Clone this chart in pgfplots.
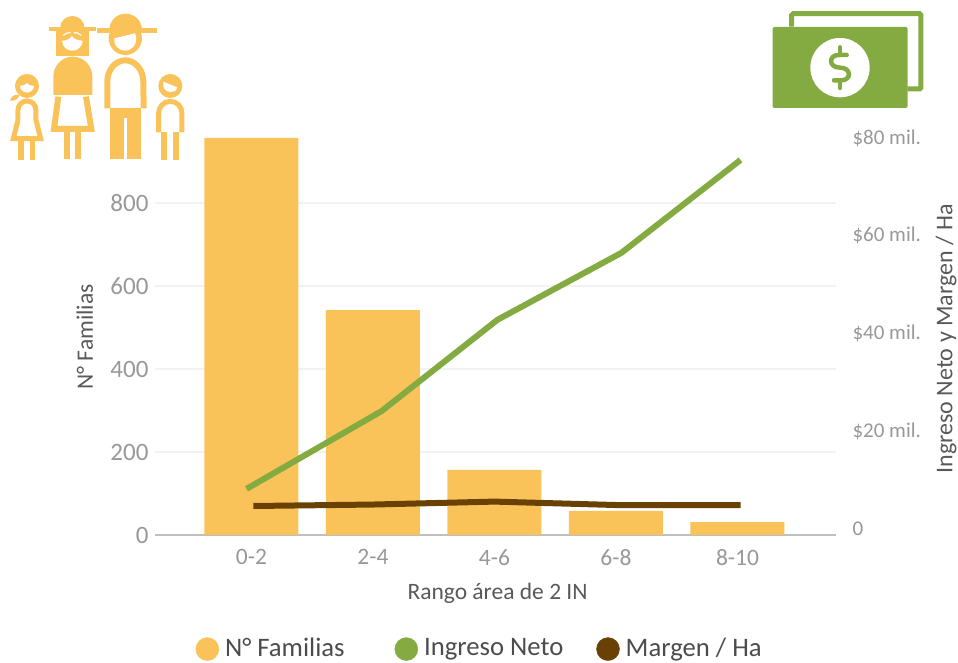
\documentclass[border=0pt]{standalone}
\usepackage{fontspec}
\setmainfont{Carlito}
\usepackage{pgfplots}
\pgfplotsset{compat=1.18}
\definecolor{amber}{HTML}{FAC35A}
\definecolor{leaf}{HTML}{84AB42}
\definecolor{umber}{HTML}{6A4104}
\definecolor{ticktxt}{HTML}{989898}
\definecolor{labeltxt}{HTML}{595959}
\newcommand{\fs}[1]{\fontsize{#1}{#1}\selectfont}
\pgfplotsset{
  panel/.style={
    at={(155pt,128pt)}, anchor=origin,
    scale only axis, width=681pt, height=405pt,
    xmin=-0.794, xmax=4.811,
    major tick length=0pt,
    clip=false,
  },
}
\begin{document}
\begin{tikzpicture}[x=1pt,y=1pt]
\useasboundingbox (0,0) rectangle (958,663);

% left axis: families
\begin{axis}[
  panel,
  anchor=south west,
  ymin=0, ymax=975.9,
  axis x line*=bottom,
  axis y line*=left,
  x axis line style={draw=black!25, line width=2pt, -},
  y axis line style={draw=none},
  ytick={0,200,400,600,800},
  ymajorgrids=true,
  grid style={draw=black!5, line width=1.2pt},
  xtick={0,1,2,3,4},
  xticklabels={0-2,2-4,4-6,6-8,8-10},
  ticklabel style={text=ticktxt},
  yticklabel style={font=\fs{25}, /pgf/number format/assume math mode=true, xshift=-3pt},
  xticklabel style={font=\fs{23.5}, yshift=-11pt},
  xlabel={Rango área de 2 IN},
  ylabel={N° Familias},
  label style={font=\fs{23.5}, text=labeltxt},
  xlabel style={at={(axis description cs:0.503,-0.143)}, anchor=center},
  ylabel style={at={(axis description cs:-0.103,0.489)}, anchor=center},
]
\addplot[ybar, bar width=94pt, fill=amber, draw=none] coordinates {(0,957)(1,542)(2,157)(3,58)(4,31)};
\end{axis}

% right axis: money, axis 0 sits a little above the baseline as in the source
\begin{axis}[
  panel,
  anchor=south west,
  ymin=-1.432, ymax=81.43,
  axis x line=none,
  axis y line*=right,
  y axis line style={draw=none},
  ytick={0,20,40,60,80},
  yticklabels={0,\$20 mil.,\$40 mil.,\$60 mil.,\$80 mil.},
  yticklabel style={font=\fs{21}, text=ticktxt, anchor=west, xshift=13pt, yshift=-1pt},
  ylabel={Ingreso Neto y Margen / Ha},
  ylabel style={font=\fs{24}, text=labeltxt, at={(axis description cs:1.1615,0.484)}, anchor=center},
  legend columns=3,
  legend style={
    anchor=south west, draw=none, fill=none,
    font=\fs{26.7}, text=labeltxt!85!black,
    at={(axis description cs:0.055,-0.316)},
    /tikz/column 2/.style={column sep=48pt},
    /tikz/column 4/.style={column sep=31pt},
  },
  legend cell align=left,
]
\addplot[forget plot, leaf, line width=6pt] coordinates {(-0.041,8)(1.07,23.9)(2.025,42.6)(3.045,56.3)(4.025,75.3)};
\addplot[forget plot, umber, line width=6pt] coordinates {(0.016,4.5)(1,4.8)(2,5.4)(3,4.7)(4.025,4.7)};
\addlegendimage{legend image code/.code={\fill[amber] (11pt,-1pt) circle (11.5pt); \path (26.5pt,-1pt);}}
\addlegendentry{N° Familias}
\addlegendimage{legend image code/.code={\fill[leaf] (11pt,-1pt) circle (11.5pt); \path (26.5pt,-1pt);}}
\addlegendentry{Ingreso Neto}
\addlegendimage{legend image code/.code={\fill[umber] (11pt,-1pt) circle (11.5pt); \path (26.5pt,-1pt);}}
\addlegendentry{Margen / Ha}
\end{axis}

% family icon, in zoomed pixel units from top left
\begin{scope}[shift={(0,663)}, x=0.3333pt, y=-0.3333pt]
  % father
  \fill[amber] (376,115) circle (50);
  \fill[amber] (328,90) arc[start angle=180,end angle=360,radius=49] -- cycle;
  \fill[white] (286,80) rectangle (327,83);
  \fill[amber] (290,83) rectangle (470,100);
  \fill[white] (343,115) -- (405,100) .. controls (418,130) and (395,152) .. (376,152) .. controls (355,152) and (340,135) .. (343,115) -- cycle;
  \draw[amber, line width=6pt] (322,325) -- (322,245) arc[start angle=180,end angle=0,radius=54,y radius=-64] -- (431,325);
  \fill[amber] (330,325) rectangle (423,477);
  \fill[white] (372,355) rectangle (382,478);
  % mother
  \fill[amber] (180,85) arc[start angle=180,end angle=360,radius=37] -- cycle;
  \fill[amber] (148,81) rectangle (288,94);
  \fill[amber] (168,94) -- (267,94) -- (267,167) -- (168,167) -- cycle;
  \fill[white] (186,122) .. controls (200,122) and (210,118) .. (216,108) .. controls (222,118) and (235,122) .. (248,122) .. controls (246,162) and (188,162) .. (186,122) -- cycle;
  \draw[white, line width=1.2pt] (190,106) .. controls (198,100) and (205,96) .. (212,98);
  \draw[white, line width=1.2pt] (244,106) .. controls (236,100) and (229,96) .. (222,98);
  \fill[amber] (160,285) -- (160,230) arc[start angle=180,end angle=0,radius=58.5,y radius=-60] -- (277,285) -- cycle;
  \draw[amber, line width=6pt, line join=miter] (175,290) -- (162,387) -- (274,387) -- (258,290);
  \fill[amber] (193,395) rectangle (211,477);
  \fill[amber] (225,395) rectangle (243,477);
  % girl
  \fill[amber] (81,258) circle (36);
  \fill[white] (60,258) .. controls (70,258) and (78,254) .. (81,249) .. controls (84,254) and (92,258) .. (102,258) .. controls (100,284) and (62,284) .. (60,258) -- cycle;
  \fill[amber] (58,285) .. controls (42,282) and (33,290) .. (30,302) .. controls (45,303) and (55,298) .. (58,285);
  \draw[amber, line width=5pt, line join=miter] (54,360) -- (54,330) arc[start angle=180,end angle=0,radius=27,y radius=-27] -- (108,360) -- (122,416) -- (40,416) -- (54,360);
  \fill[amber] (55,424) rectangle (72,480);
  \fill[amber] (90,424) rectangle (106,480);
  % boy
  \fill[amber] (511,258) circle (36);
  \fill[white] (490,245) -- (532,262) .. controls (528,282) and (494,282) .. (490,258) -- cycle;
  \draw[amber, line width=5pt] (476,397) -- (476,340) arc[start angle=180,end angle=0,radius=35,y radius=-36] -- (546,397);
  \fill[amber] (483,396) rectangle (501,480);
  \fill[amber] (519,396) rectangle (537,480);
\end{scope}

% money icon
\begin{scope}[shift={(760,663)}, x=0.3333pt, y=-0.3333pt]
  \draw[leaf, line width=5pt, rounded corners=1.5pt] (95,80) -- (95,41) -- (483,41) -- (483,267) -- (442,267);
  \fill[leaf, rounded corners=1.5pt] (38,81) rectangle (443,324);
  \fill[white] (240,203) circle (89);
  \draw[leaf, line width=4.5pt, line cap=round] (240,142) -- (240,165);
  \draw[leaf, line width=4.5pt, line cap=round] (240,241) -- (240,264);
  \draw[leaf, line width=4.5pt, line cap=round] (260,165) -- (236,165) .. controls (205,165) and (205,203) .. (240,203) .. controls (275,203) and (275,241) .. (244,241) -- (222,241);
\end{scope}
\end{tikzpicture}
\end{document}
